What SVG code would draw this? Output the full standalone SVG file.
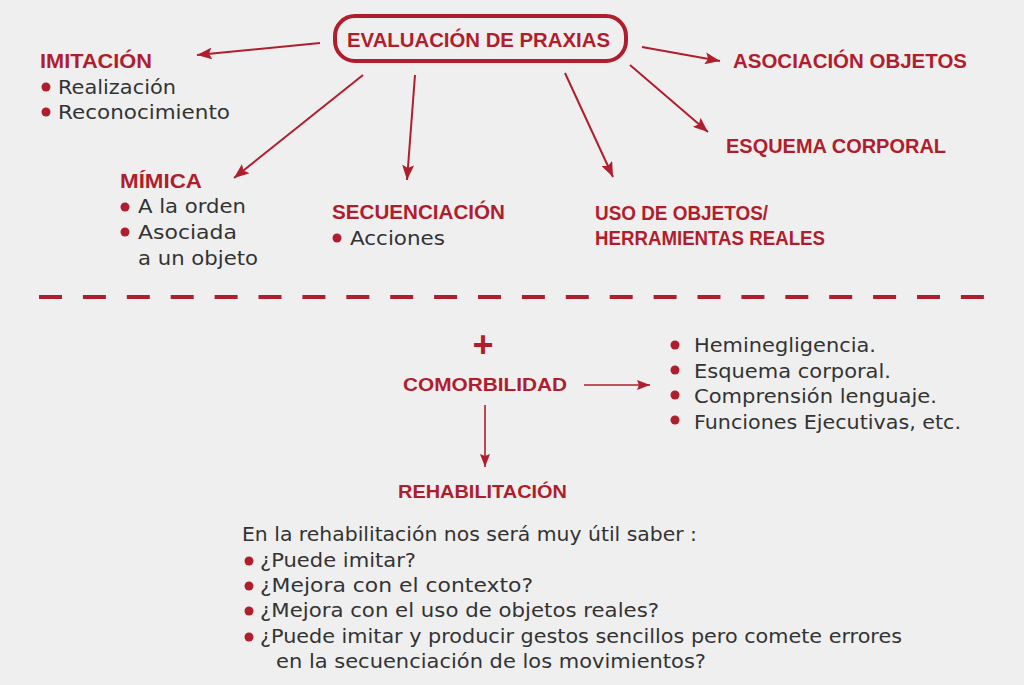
<svg xmlns="http://www.w3.org/2000/svg" width="1024" height="685" viewBox="0 0 1024 685">
<defs>
<style>
.h{font-family:"Liberation Sans",Arial,sans-serif;font-weight:bold;fill:#b01e2d;font-size:21px}
.t{font-family:"DejaVu Sans","Liberation Sans",sans-serif;fill:#333333;font-size:19px}
.b{fill:#b01e2d}
.c{stroke:#b01e2d;stroke-width:2;fill:none}
.c2{stroke:#b01e2d;stroke-width:1.6;fill:none}
</style>
<marker id="ah" markerUnits="userSpaceOnUse" markerWidth="16" markerHeight="12" refX="15" refY="6" orient="auto">
<path d="M0,0 L15,6 L0,12 L3,6 Z" fill="#b01e2d"/>
</marker>
<marker id="ah2" markerUnits="userSpaceOnUse" markerWidth="14" markerHeight="10" refX="13" refY="5" orient="auto">
<path d="M0,0 L13,5 L0,10 L2,5 Z" fill="#b01e2d"/>
</marker>
</defs>
<rect width="1024" height="685" fill="#efefef"/>

<g id="connectors">
<line class="c" x1="320" y1="43" x2="197" y2="55" marker-end="url(#ah)"/>
<line class="c" x1="363" y1="75" x2="234" y2="178" marker-end="url(#ah)"/>
<line class="c" x1="415" y1="75" x2="407" y2="180" marker-end="url(#ah)"/>
<line class="c" x1="565" y1="73" x2="613" y2="177" marker-end="url(#ah)"/>
<line class="c" x1="642" y1="47" x2="720" y2="61" marker-end="url(#ah)"/>
<line class="c" x1="630" y1="65" x2="708" y2="132" marker-end="url(#ah)"/>
<line class="c2" x1="584" y1="385" x2="650" y2="385" marker-end="url(#ah2)"/>
<line class="c2" x1="485" y1="405" x2="485" y2="467" marker-end="url(#ah2)"/>
</g>

<g id="divider">
<line x1="39" y1="297" x2="985" y2="297" stroke="#b01e2d" stroke-width="4" stroke-dasharray="23 20.9"/>
</g>

<g id="evaluacion">
<rect x="335" y="16" width="291" height="45" rx="20" ry="20" fill="none" stroke="#b01e2d" stroke-width="4"/>
<text class="h" x="347" y="47" textLength="263" lengthAdjust="spacingAndGlyphs">EVALUACIÓN DE PRAXIAS</text>
</g>

<g id="imitacion">
<text class="h" x="40" y="68" textLength="112" lengthAdjust="spacingAndGlyphs">IMITACIÓN</text>
<circle class="b" cx="46" cy="87" r="4.5"/>
<text class="t" x="58" y="94" textLength="118" lengthAdjust="spacingAndGlyphs">Realización</text>
<circle class="b" cx="46" cy="112" r="4.5"/>
<text class="t" x="58" y="119" textLength="172" lengthAdjust="spacingAndGlyphs">Reconocimiento</text>
</g>

<g id="mimica">
<text class="h" x="120" y="188" textLength="82" lengthAdjust="spacingAndGlyphs">MÍMICA</text>
<circle class="b" cx="125" cy="207" r="4.5"/>
<text class="t" x="138" y="213" textLength="108" lengthAdjust="spacingAndGlyphs">A la orden</text>
<circle class="b" cx="125" cy="232" r="4.5"/>
<text class="t" x="138" y="239" textLength="99" lengthAdjust="spacingAndGlyphs">Asociada</text>
<text class="t" x="138" y="265" textLength="120" lengthAdjust="spacingAndGlyphs">a un objeto</text>
</g>

<g id="secuenciacion">
<text class="h" x="332" y="219" textLength="173" lengthAdjust="spacingAndGlyphs">SECUENCIACIÓN</text>
<circle class="b" cx="337" cy="238" r="4.5"/>
<text class="t" x="350" y="245" textLength="95" lengthAdjust="spacingAndGlyphs">Acciones</text>
</g>

<g id="uso-objetos">
<text class="h" x="595" y="220" textLength="173" lengthAdjust="spacingAndGlyphs">USO DE OBJETOS/</text>
<text class="h" x="595" y="245" textLength="230" lengthAdjust="spacingAndGlyphs">HERRAMIENTAS REALES</text>
</g>

<g id="asociacion">
<text class="h" x="733" y="68" textLength="234" lengthAdjust="spacingAndGlyphs">ASOCIACIÓN OBJETOS</text>
</g>

<g id="esquema">
<text class="h" x="726" y="153" textLength="220" lengthAdjust="spacingAndGlyphs">ESQUEMA CORPORAL</text>
</g>

<g id="plus">
<text x="483" y="357" text-anchor="middle" style="font-family:'Liberation Sans',Arial,sans-serif;font-weight:bold;font-size:36px;fill:#b01e2d">+</text>
</g>

<g id="comorbilidad">
<text class="h" x="403" y="391" style="font-size:18px" textLength="164" lengthAdjust="spacingAndGlyphs">COMORBILIDAD</text>
</g>

<g id="comorbilidad-list">
<circle class="b" cx="675" cy="345" r="4.5"/>
<text class="t" x="694" y="352" textLength="182" lengthAdjust="spacingAndGlyphs">Heminegligencia.</text>
<circle class="b" cx="675" cy="370" r="4.5"/>
<text class="t" x="694" y="378" textLength="197" lengthAdjust="spacingAndGlyphs">Esquema corporal.</text>
<circle class="b" cx="675" cy="395" r="4.5"/>
<text class="t" x="694" y="403" textLength="243" lengthAdjust="spacingAndGlyphs">Comprensión lenguaje.</text>
<circle class="b" cx="675" cy="420" r="4.5"/>
<text class="t" x="694" y="429" textLength="267" lengthAdjust="spacingAndGlyphs">Funciones Ejecutivas, etc.</text>
</g>

<g id="rehabilitacion">
<text class="h" x="398" y="498" style="font-size:19px" textLength="169" lengthAdjust="spacingAndGlyphs">REHABILITACIÓN</text>
</g>

<g id="rehabilitacion-text">
<text class="t" x="242" y="541" textLength="455" lengthAdjust="spacingAndGlyphs">En la rehabilitación nos será muy útil saber :</text>
<circle class="b" cx="249" cy="561" r="4.5"/>
<text class="t" x="260" y="567" textLength="156" lengthAdjust="spacingAndGlyphs">¿Puede imitar?</text>
<circle class="b" cx="249" cy="586" r="4.5"/>
<text class="t" x="260" y="592" textLength="273" lengthAdjust="spacingAndGlyphs">¿Mejora con el contexto?</text>
<circle class="b" cx="249" cy="611" r="4.5"/>
<text class="t" x="260" y="617" textLength="399" lengthAdjust="spacingAndGlyphs">¿Mejora con el uso de objetos reales?</text>
<circle class="b" cx="249" cy="637" r="4.5"/>
<text class="t" x="260" y="643" textLength="642" lengthAdjust="spacingAndGlyphs">¿Puede imitar y producir gestos sencillos pero comete errores</text>
<text class="t" x="276" y="668" textLength="430" lengthAdjust="spacingAndGlyphs">en la secuenciación de los movimientos?</text>
</g>
</svg>
